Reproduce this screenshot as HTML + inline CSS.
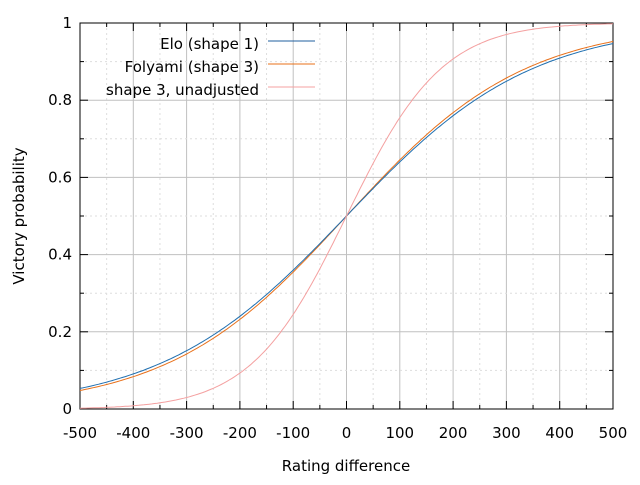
<!DOCTYPE html>
<html><head><meta charset="utf-8"><style>
body{margin:0;background:#fff;}
svg text{font-family:"DejaVu Sans","Liberation Sans",sans-serif;font-size:15px;fill:#000;}
</style></head><body>
<svg id="s" width="640" height="480" xmlns="http://www.w3.org/2000/svg">
<g id="grid"></g>
<rect x="80" y="23" width="533" height="386" fill="none" stroke="#000" stroke-width="1"/>
<g id="ticks"></g>
<g id="curves" fill="none" stroke-width="1"></g>
<text x="259" y="49" text-anchor="end">Elo (shape 1)</text>
<text x="259" y="72" text-anchor="end">Folyami (shape 3)</text>
<text x="259" y="95" text-anchor="end">shape 3, unadjusted</text>
<line x1="268" y1="41" x2="315" y2="41" stroke="#1f5f9f"/>
<line x1="268" y1="64" x2="315" y2="64" stroke="#e8701a"/>
<line x1="268" y1="87" x2="315" y2="87" stroke="#f4a0a0"/>
<text x="346" y="471" text-anchor="middle">Rating difference</text>
<text transform="translate(24,216) rotate(-90)" text-anchor="middle">Victory probability</text>
</svg>
<script>
var NS="http://www.w3.org/2000/svg";
function X(d){return 80+(d+500)*0.533;}
function Y(p){return 409-p*386;}
function el(par,tag,a){var e=document.createElementNS(NS,tag);for(var k in a)e.setAttribute(k,a[k]);document.getElementById(par).appendChild(e);return e;}
for(var d=-450;d<500;d+=50){var x=X(d);var maj=d%100==0;
 el("grid","line",{x1:x,y1:23,x2:x,y2:409,stroke:maj?"#c0c0c0":"#dddddd","stroke-dasharray":maj?"":"2,3"});}
for(var i=1;i<10;i++){var y=Y(i/10);var maj=i%2==0;
 el("grid","line",{x1:80,y1:y,x2:613,y2:y,stroke:maj?"#c0c0c0":"#dddddd","stroke-dasharray":maj?"":"2,3"});}
for(var d=-500;d<=500;d+=50){var x=X(d);var L=d%100==0?8:4;
 el("ticks","line",{x1:x,y1:409,x2:x,y2:409-L,stroke:"#000"});
 el("ticks","line",{x1:x,y1:23,x2:x,y2:23+L,stroke:"#000"});
 if(d%100==0){var t=el("ticks","text",{x:x,y:438,"text-anchor":"middle"});t.textContent=d;}}
for(var i=0;i<=10;i++){var y=Y(i/10);var L=i%2==0?8:4;
 el("ticks","line",{x1:80,y1:y,x2:80+L,y2:y,stroke:"#000"});
 el("ticks","line",{x1:613,y1:y,x2:613-L,y2:y,stroke:"#000"});
 if(i%2==0){var t=el("ticks","text",{x:72,y:y+5,"text-anchor":"end"});t.textContent=i==0?"0":i==10?"1":(i/10).toFixed(1);}}
function curve(f,c){var p=[];for(var d=-500;d<=500;d+=5)p.push(X(d).toFixed(1)+","+Y(f(d)).toFixed(1));
 el("curves","polyline",{points:p.join(" "),stroke:c});}
curve(function(d){return 1/(1+Math.pow(10,-d/385));},"#e8701a");
curve(function(d){return 1/(1+Math.pow(10,-d/400));},"#1f6fb0");
curve(function(d){var z=0.0112*d;return 1/(1+Math.exp(-z-0.0000000045*d*d*d));},"#f4a0a0");
</script>
</body></html>
